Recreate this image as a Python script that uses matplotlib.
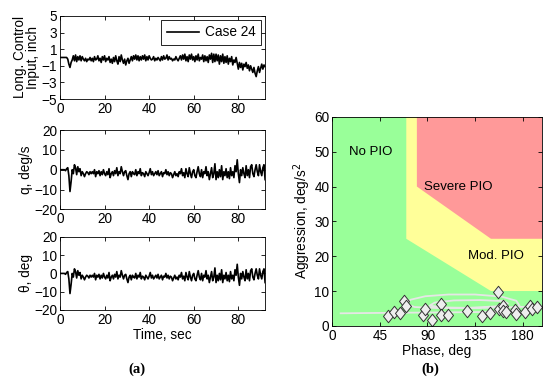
import numpy as np
import matplotlib
matplotlib.use('Agg')
import matplotlib.pyplot as plt
from matplotlib.patches import Polygon
from matplotlib.path import Path

plt.rcParams['font.family'] = ['Liberation Sans', 'DejaVu Sans']
plt.rcParams['font.size'] = 9.8

# ---- (a) time histories, sampled every 0.5 s from 0 to 92 s
time_step = 0.5
stick_inch = [
    0, 0, 0, 0, 0, 0, 0, -0.2, -0.8, -1.2,
    -0.6, -0.3, 0.2, -0.4, 0.3, -0.5, 0.1, -0.3, 0.2, -0.4,
    0.1, -0.2, -0.4, -0.1, -0.5, -0.2, -0.3, 0.0, -0.4, -0.1,
    -0.5, 0.1, -0.3, -0.2, 0.2, -0.4, -0.1, -0.6, 0.1, -0.3,
    0.2, -0.5, -0.1, -0.3, 0.1, -0.6, -0.2, -0.7, 0.0, -0.5,
    0.2, -0.4, -0.8, 0.1, -0.5, 0.3, -0.3, -0.7, -0.2, -0.9,
    -0.4, -0.1, -0.7, -0.3, 0.1, -0.4, 0.2, -0.2, 0.3, -0.3,
    0.2, -0.4, 0.1, -0.3, 0.2, -0.2, 0.3, -0.4, 0.1, -0.3,
    0.2, -0.1, -0.3, -0.2, 0.1, -0.4, -0.1, -0.3, 0.0, -0.2,
    -0.4, 0.1, -0.3, 0.2, -0.2, -0.1, 0.3, -0.3, 0.1, -0.2,
    -0.1, -0.4, -0.2, -0.3, 0.1, -0.2, -0.4, -0.1, 0.2, -0.3,
    0.3, -0.2, 0.4, -0.4, 0.1, -0.5, 0.3, -0.2, 0.4, -0.3,
    0.1, -0.5, 0.2, -0.3, 0.4, -0.4, 0.0, -0.2, 0.3, -0.5,
    0.2, -0.4, 0.1, -0.6, 0.3, -0.2, 0.5, -0.6, 0.4, -0.5,
    0.4, -0.4, 0.3, -0.8, 0.2, -0.5, 0.4, -0.7, 0.1, -0.6,
    0.2, -0.8, -0.1, -0.5, 0.1, -0.9, -0.3, -0.6, 0.0, -0.7,
    -1.4, -0.6, -1.2, -0.7, -1.5, -0.8, -1.1, -0.6, -1.3, -0.9,
    -1.6, -1.0, -1.4, -1.8, -1.2, -1.9, -2.3, -1.6, -1.1, -1.8,
    -1.3, -0.8, -1.4, -0.9, -1.1,
]
q_deg_s = [
    0, 0, 0, 0, 0, -0.5, 0.5, 1.0, -3, -11,
    -6, 0, -2, 2.5, 1, -2.5, 1.5, -1, 0.5, -3,
    -1, -2, -3.5, -2, -1, -1.5, -2.5, -1, -2, -1,
    -2, 0, -3.5, -1, -2, -0.5, -3, -1, -2.5, 0,
    -2, -3, -1, -2.5, 0.5, -4, -2, -1, -3, -0.5,
    -2, 1, -3, -1, -2, 1.5, -1, -3, -1, -0.5,
    -3, -5, -2, -1, -3.5, -1, -2, -2.5, 0, -3,
    -1, -2, 0.5, -3, -1.5, -2, -3.5, -1, -2, -3,
    -1.5, 0.5, -2.5, -1, -3, -2, -1, -2.5, -0.5, -3,
    -2, -1, -3.5, -1.5, -2, 0, -2.5, -1, -3, -1.5,
    -2, -4, -2.5, -1, -3, -2, -3.5, -1, -2, 0.5,
    -3, -1.5, -4, 0.5, -2, -3.5, 1, -2, -4, -1,
    0, -3, -4, -1, 1.5, -2, -3.5, 0, -4, -1,
    -2, 1.5, -3, -1, -5, -2, 1, -4, -2, 3,
    -5, -1, -4, 0, -3.5, 2, -5, -1, -3, 0.5,
    -4, -1, -4.5, 1, -3, -1, -4, 2, -1, 5,
    -2, -6.5, 0, -3, 1, -2, -4, 2, -3, 0,
    -4, 1.5, 2.5, -2, -3.5, 0, 2.5, -1, -3, 2.5,
    -1, -3, 1, 2.5, -5,
]
# pitch attitude trace in the figure is the same shape as q
theta_deg = list(q_deg_s)

# ---- (b) PIO boundary chart
phase_deg = [53, 58.7, 64, 68, 70, 86, 87.4, 94, 102.4, 103.2, 109.6, 127, 141.5,
             149.5, 156.8, 157.7, 161.5, 161, 164.6, 172.5, 173.6, 182, 187.3, 189, 193.5]
aggression = [2.8, 4.0, 3.7, 7.0, 5.7, 3.1, 4.7, 1.8, 6.2, 3.0, 3.2, 4.3, 2.9,
              3.8, 9.6, 4.7, 5.8, 4.3, 3.9, 4.6, 3.3, 4.1, 5.8, 4.7, 5.4]
# light grey trajectory traces behind the markers
trace_phase = [8, 40, 80, 120, 150, 168, 177, 174, 160, 135, 110, 88, 74, 70, 78,
               100, 130, 155, 166, 162, 140, 115, 97, 92, 105, 135, 160, 185, 198]
trace_aggr = [3.6, 3.7, 3.8, 3.9, 4.0, 4.4, 5.8, 7.2, 8.4, 9.0, 9.0, 8.5, 7.5, 6.3, 5.4,
              5.1, 5.2, 5.6, 6.4, 7.1, 7.4, 7.3, 6.7, 5.8, 5.3, 5.1, 5.3, 5.5, 5.6]
severe_zone = [(80, 60), (80, 40), (150, 25), (200, 25), (200, 60)]
mod_zone = [(70, 60), (70, 25), (150, 10), (200, 10), (200, 60)]

GREEN = '#99ff99'
YELLOW = '#ffff99'
RED = '#ff9999'

# diamond a bit narrower than it is tall
DIAMOND = Path([(0, 1), (0.8, 0), (0, -1), (-0.8, 0), (0, 1)],
               [Path.MOVETO, Path.LINETO, Path.LINETO, Path.LINETO, Path.CLOSEPOLY])


def style_axes(ax):
    ax.tick_params(direction='in', top=True, right=True, length=3, width=0.6, pad=2)
    for sp in ax.spines.values():
        sp.set_linewidth(0.6)


def main():
    fig = plt.figure(figsize=(5.5, 3.87), dpi=100)
    t = np.arange(len(stick_inch)) * time_step

    # Long. control input
    ax1 = fig.add_axes([0.109, 0.744, 0.373, 0.215])
    ax1.plot(t, stick_inch, '-', color='black', linewidth=1.2, label='Case 24')
    ax1.set_xlim(0, 92)
    ax1.set_ylim(-5, 5)
    ax1.set_yticks([-5, -3, -1, 1, 3, 5])
    ax1.set_xticks([0, 20, 40, 60, 80])
    ax1.set_ylabel('Long. Control\nInput, inch', labelpad=1, linespacing=0.95)
    leg = ax1.legend(loc='upper right', fancybox=False, framealpha=1, edgecolor='black',
                     handlelength=2.4, handletextpad=0.4, borderpad=0.4,
                     borderaxespad=0.3, fontsize=9.8)
    leg.get_frame().set_linewidth(0.6)
    style_axes(ax1)

    # q
    ax2 = fig.add_axes([0.109, 0.459, 0.373, 0.205])
    ax2.plot(t, q_deg_s, '-', color='black', linewidth=1.2)
    ax2.set_xlim(0, 92)
    ax2.set_ylim(-20, 20)
    ax2.set_yticks([-20, -10, 0, 10, 20])
    ax2.set_xticks([0, 20, 40, 60, 80])
    ax2.set_ylabel('q, deg/s', labelpad=1)
    style_axes(ax2)

    # theta
    ax3 = fig.add_axes([0.109, 0.199, 0.373, 0.189])
    ax3.plot(t, theta_deg, '-', color='black', linewidth=1.2)
    ax3.set_xlim(0, 92)
    ax3.set_ylim(-20, 20)
    ax3.set_yticks([-20, -10, 0, 10, 20])
    ax3.set_xticks([0, 20, 40, 60, 80])
    ax3.set_ylabel('θ, deg', labelpad=1)
    ax3.set_xlabel('Time, sec', labelpad=1)
    style_axes(ax3)

    # PIO chart
    ax4 = fig.add_axes([0.604, 0.158, 0.381, 0.540])
    ax4.set_facecolor(GREEN)
    ax4.add_patch(Polygon(mod_zone, closed=True, facecolor=YELLOW, edgecolor='none'))
    ax4.add_patch(Polygon(severe_zone, closed=True, facecolor=RED, edgecolor='none'))
    ax4.plot(trace_phase, trace_aggr, '-', color='#e6e6e6', linewidth=1.3)
    ax4.plot(phase_deg, aggression, linestyle='none', marker=DIAMOND, markersize=9,
             markerfacecolor='#eeeeee', markeredgecolor='#333333', markeredgewidth=0.7)
    ax4.text(36, 50, 'No PIO', ha='center', va='center', fontsize=9.5)
    ax4.text(119, 40, 'Severe PIO', ha='center', va='center', fontsize=9.5)
    ax4.text(155, 20, 'Mod. PIO', ha='center', va='center', fontsize=9.5)
    ax4.set_xlim(0, 198)
    ax4.set_ylim(0, 60)
    ax4.set_xticks([0, 45, 90, 135, 180])
    ax4.set_yticks([0, 10, 20, 30, 40, 50, 60])
    ax4.set_xlabel('Phase, deg', labelpad=1)
    ax4.set_ylabel('Aggression, deg/s$^2$', labelpad=1)
    style_axes(ax4)

    fig.text(0.249, 0.045, '(a)', ha='center', va='center', fontsize=10.5,
             fontweight='bold', family='Liberation Serif')
    fig.text(0.782, 0.045, '(b)', ha='center', va='center', fontsize=10.5,
             fontweight='bold', family='Liberation Serif')

    fig.savefig('out.png', dpi=100)


if __name__ == '__main__':
    main()
